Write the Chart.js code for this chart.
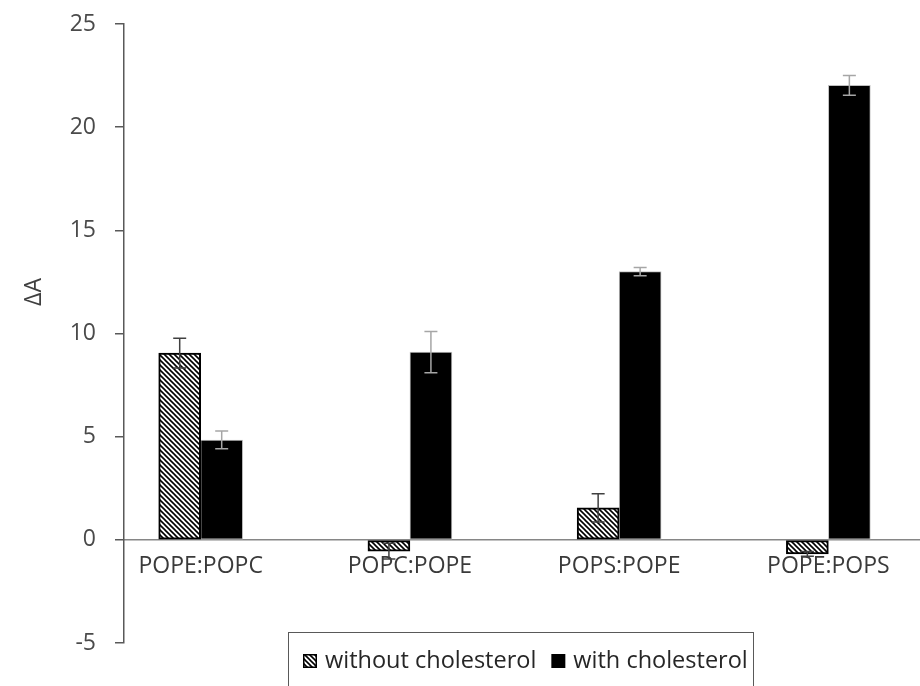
<!DOCTYPE html>
<html>
<head>
<meta charset="utf-8">
<script src="https://cdn.jsdelivr.net/npm/chart.js@4.4.1/dist/chart.umd.min.js"></script>
<style>
  html, body { margin: 0; padding: 0; background: #ffffff; overflow: hidden; }
  #wrap { width: 920px; height: 686px; position: relative; }
</style>
</head>
<body>
<div id="wrap"><canvas id="chart" width="920" height="686"></canvas></div>
<script>
// Data
const categories = ['POPE:POPC', 'POPC:POPE', 'POPS:POPE', 'POPE:POPS'];
const withoutChol = [9.05, -0.55, 1.55, -0.68];
const withoutCholErr = [0.72, 0.38, 0.68, 0.12];
const withChol = [4.84, 9.1, 13.0, 22.03];
const withCholErr = [0.43, 1.0, 0.2, 0.48];
const yTicks = [-5, 0, 5, 10, 15, 20, 25];
const seriesNames = ['without cholesterol', 'with cholesterol'];
const yTitle = 'ΔA';

// category axis range (in category units), so the first group sits off the y axis like the original
const xMin = -0.3666;
const xMax = 3.438;

const FONT = "'Open Sans', 'DejaVu Sans', sans-serif";
const canvas = document.getElementById('chart');
const mainCtx = canvas.getContext('2d');

// wide downward diagonal hatch, like the Excel pattern fill
function makeHatch() {
  const size = 5;
  const c = document.createElement('canvas');
  c.width = size; c.height = size;
  const g = c.getContext('2d');
  g.fillStyle = '#ffffff';
  g.fillRect(0, 0, size, size);
  g.strokeStyle = '#000000';
  g.lineWidth = 1.6;
  for (const off of [-size, 0, size]) {
    g.beginPath();
    g.moveTo(off - 1, -1);
    g.lineTo(off + size + 1, size + 1);
    g.stroke();
  }
  return mainCtx.createPattern(c, 'repeat');
}
const hatch = makeHatch();

const toPoints = (vals) => vals.map((v, i) => ({ x: i, y: v }));

// error bars drawn on top of the bars
const errorBars = {
  id: 'errorBars',
  afterDatasetsDraw(chart) {
    const ctx = chart.ctx;
    const yScale = chart.scales.y;
    chart.data.datasets.forEach((ds, di) => {
      const meta = chart.getDatasetMeta(di);
      meta.data.forEach((bar, i) => {
        const v = ds.data[i].y;
        const e = ds.errors[i];
        const top = yScale.getPixelForValue(v + e);
        const bot = yScale.getPixelForValue(v - e);
        ctx.save();
        ctx.strokeStyle = ds.errorColor;
        ctx.lineWidth = 1.5;
        ctx.beginPath();
        ctx.moveTo(bar.x, top); ctx.lineTo(bar.x, bot);
        ctx.moveTo(bar.x - 6.5, top); ctx.lineTo(bar.x + 6.5, top);
        ctx.moveTo(bar.x - 6.5, bot); ctx.lineTo(bar.x + 6.5, bot);
        ctx.stroke();
        ctx.restore();
      });
    });
  }
};

// boxed legend at the bottom and the y title
const extras = {
  id: 'extras',
  afterDraw(chart) {
    const ctx = chart.ctx;
    ctx.save();
    // y title
    ctx.translate(34, 292);
    ctx.rotate(-Math.PI / 2);
    ctx.font = '23px ' + FONT;
    ctx.fillStyle = '#404040';
    ctx.textAlign = 'center';
    ctx.textBaseline = 'middle';
    ctx.fillText(yTitle, 0, 0);
    ctx.restore();

    ctx.save();
    ctx.font = '23.5px ' + FONT;
    const boxLeft = 288.5, boxTop = 632.5;
    let x = 303;
    const iconTop = 654, iconSize = 14, textY = 661;
    chart.data.datasets.forEach((ds, i) => {
      if (ds.legendHatch) {
        ctx.fillStyle = hatch;
        ctx.fillRect(x, iconTop, iconSize, iconSize);
        ctx.strokeStyle = '#000000';
        ctx.lineWidth = 1.5;
        ctx.strokeRect(x + 0.75, iconTop + 0.75, iconSize - 1.5, iconSize - 1.5);
      } else {
        ctx.fillStyle = '#000000';
        ctx.fillRect(x, iconTop, iconSize, iconSize);
      }
      x += iconSize + 8;
      ctx.fillStyle = '#262626';
      ctx.textAlign = 'left';
      ctx.textBaseline = 'middle';
      ctx.fillText(ds.label, x, textY);
      x += ctx.measureText(ds.label).width + (i === 0 ? 15 : 0);
    });
    ctx.strokeStyle = '#595959';
    ctx.lineWidth = 1;
    ctx.strokeRect(boxLeft, boxTop, Math.round(x + 5) - boxLeft + 0.5, 120);
    ctx.restore();
  }
};

new Chart(canvas, {
  type: 'bar',
  data: {
    datasets: [
      {
        label: seriesNames[0],
        data: toPoints(withoutChol),
        errors: withoutCholErr,
        errorColor: '#404040',
        legendHatch: true,
        backgroundColor: hatch,
        borderColor: '#000000',
        borderWidth: 2,
        borderSkipped: false
      },
      {
        label: seriesNames[1],
        data: toPoints(withChol),
        errors: withCholErr,
        errorColor: '#a6a6a6',
        backgroundColor: '#000000',
        borderColor: '#bfbfbf',
        borderWidth: 1,
        borderSkipped: false
      }
    ]
  },
  options: {
    responsive: false,
    animation: false,
    devicePixelRatio: 1,
    barThickness: 42,
    layout: { padding: { top: 24, right: 0, bottom: 43, left: 0 } },
    plugins: { legend: { display: false }, tooltip: { enabled: false } },
    scales: {
      x: {
        type: 'linear',
        offset: false,
        min: xMin,
        max: xMax,
        position: { y: 0 },
        afterDataLimits: (s) => { s.min = xMin; s.max = xMax; },
        afterBuildTicks: (s) => {
          s.ticks = categories.map((_, i) => ({ value: i }));
          s.min = xMin; s.max = xMax;
        },
        ticks: {
          callback: (v) => categories[v] ?? '',
          font: { family: FONT, size: 23 },
          color: '#3a3a3a',
          padding: 13,
          maxRotation: 0,
          autoSkip: false
        },
        grid: { display: false, drawTicks: false },
        border: { display: true, color: '#868686', width: 1.5 }
      },
      y: {
        min: -5,
        max: 25,
        afterBuildTicks: (s) => { s.ticks = yTicks.map((v) => ({ value: v })); },
        afterFit: (s) => {
          s.width = 124;
          s.paddingTop = 0;
          s.paddingBottom = 0;
        },
        ticks: {
          font: { family: FONT, size: 23 },
          color: '#4a4a4a',
          padding: 19
        },
        grid: { drawOnChartArea: false, drawTicks: true, tickLength: 9, color: '#595959', lineWidth: 1.5 },
        border: { display: true, color: '#595959', width: 1.5 }
      }
    }
  },
  plugins: [errorBars, extras]
});
</script>
</body>
</html>
